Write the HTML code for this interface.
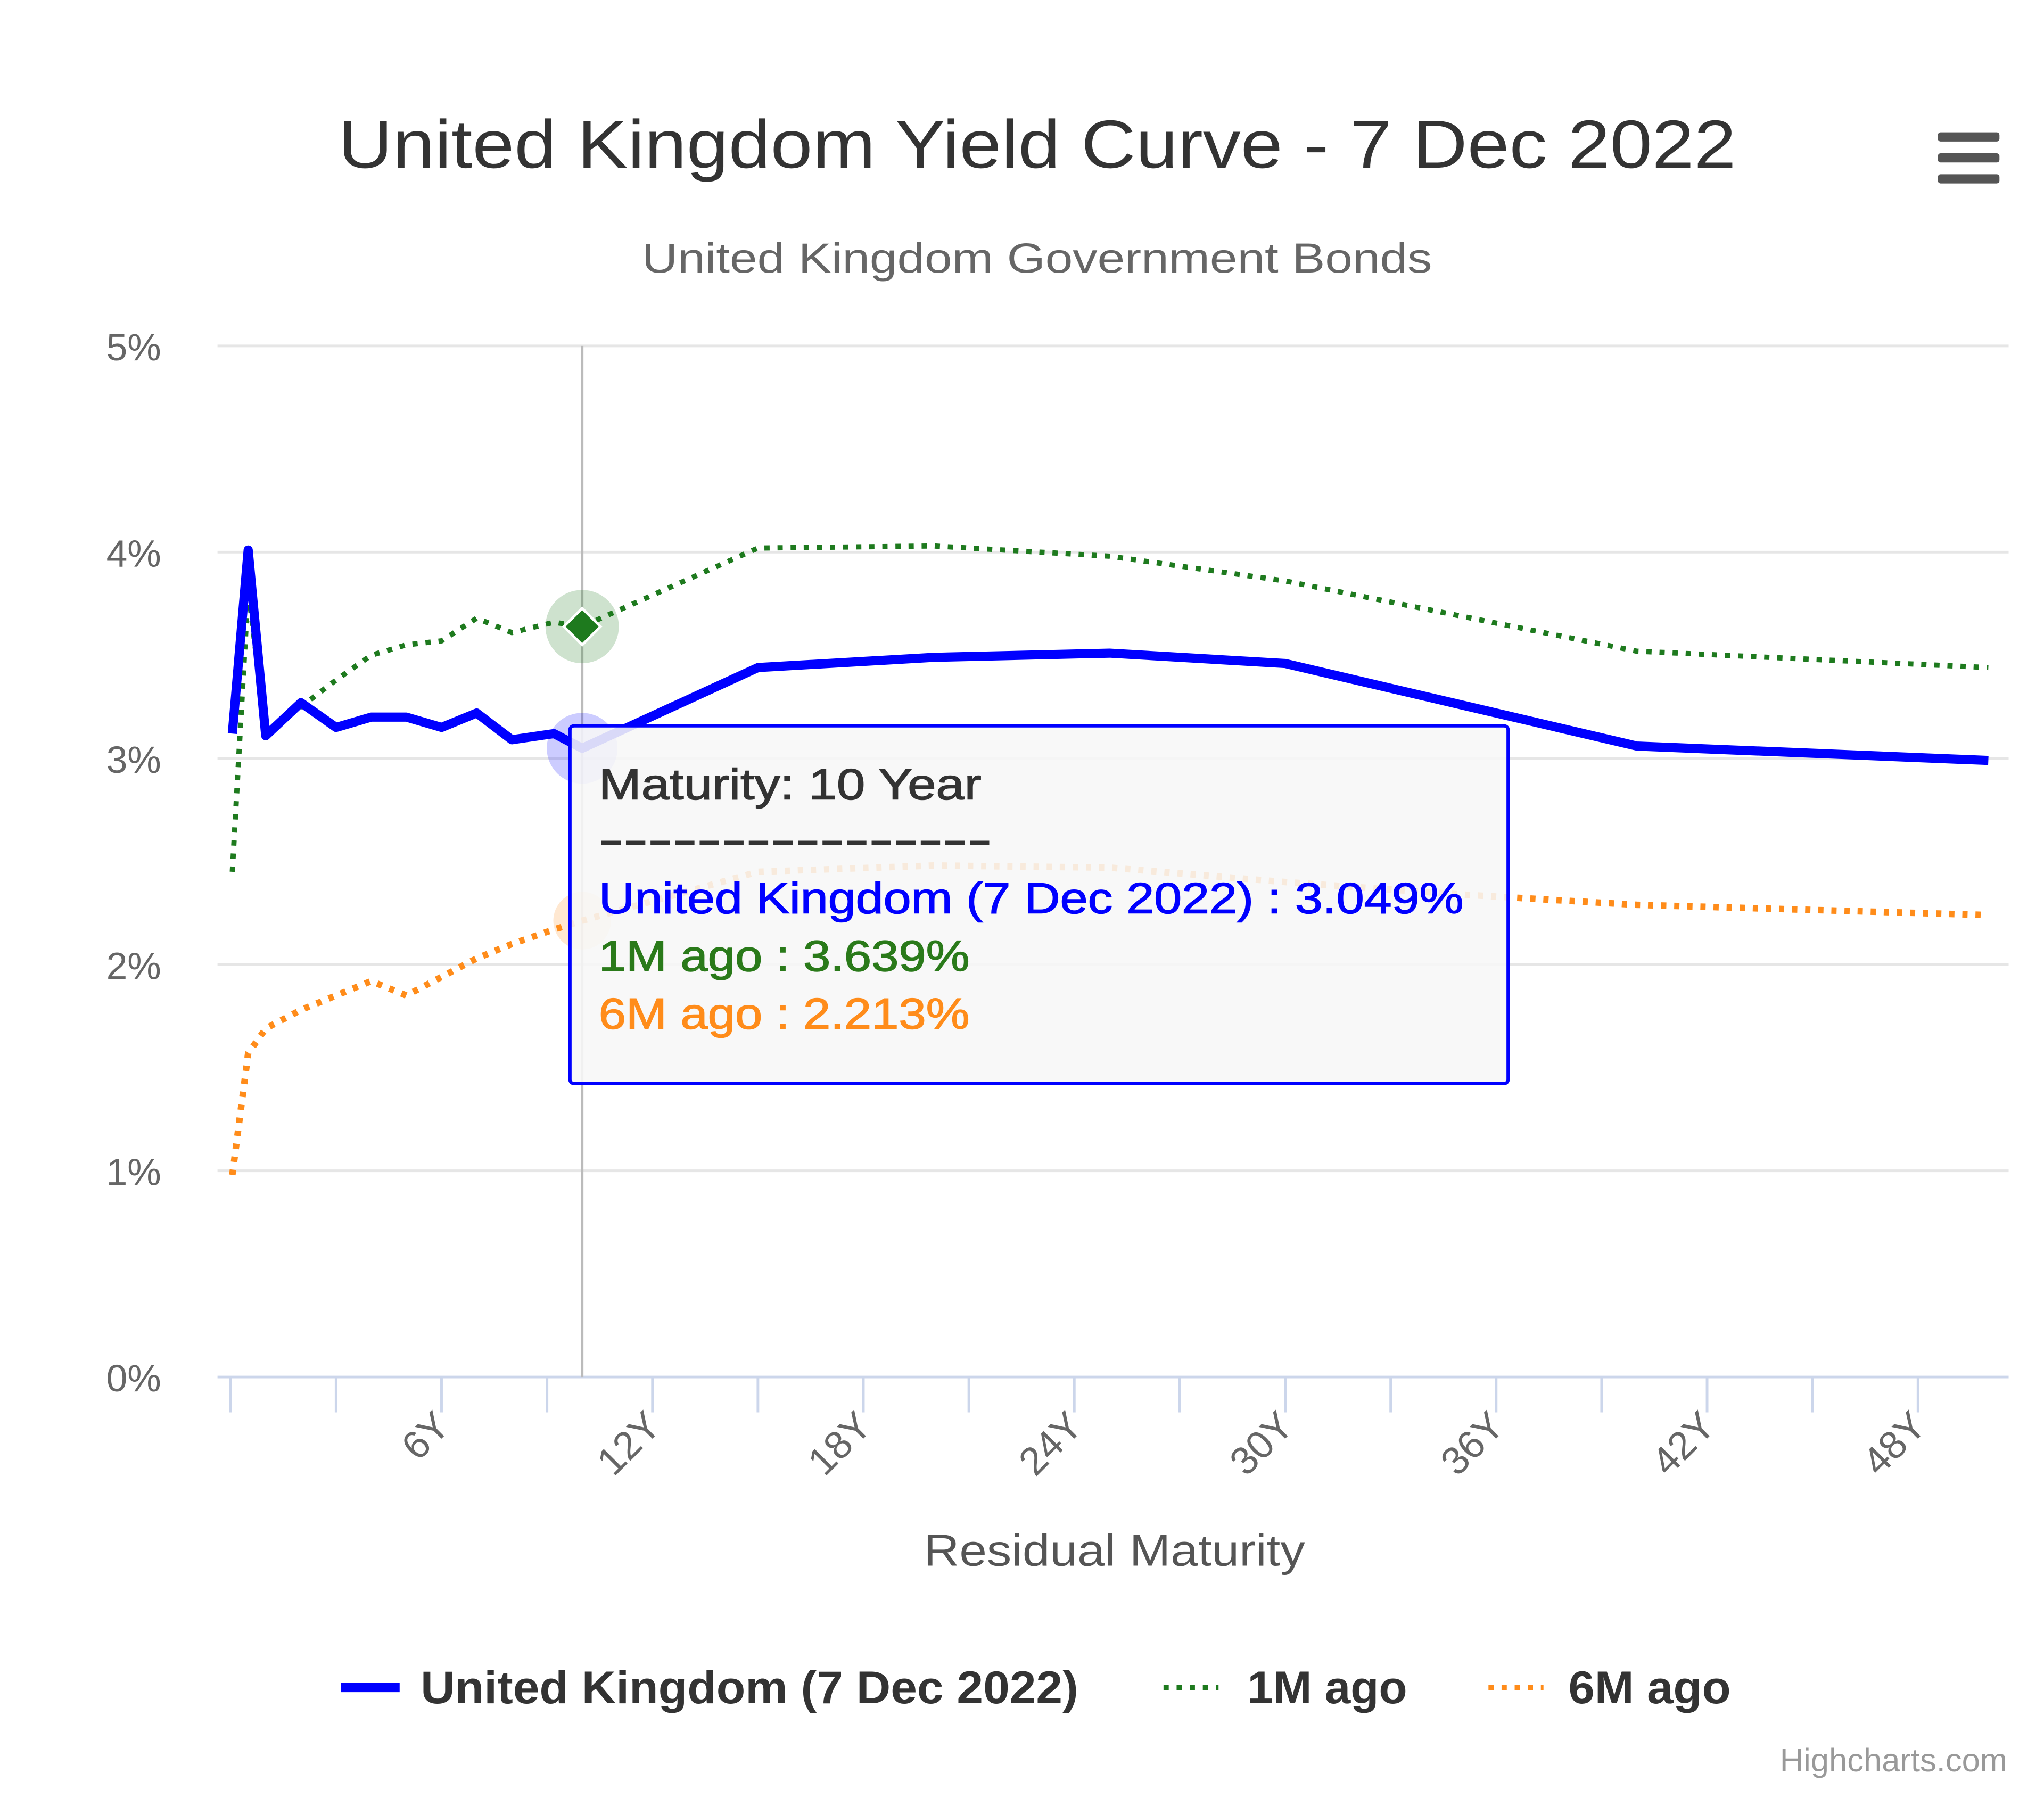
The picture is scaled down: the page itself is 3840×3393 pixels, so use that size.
<!DOCTYPE html>
<html><head><meta charset="utf-8"><style>
html,body{margin:0;padding:0;background:#fff;}
svg{display:block;font-family:"Liberation Sans",sans-serif;}
</style></head><body>
<svg id="chart" width="3840" height="3393" viewBox="0 0 1560 1378.4" xmlns="http://www.w3.org/2000/svg">
<rect x="0" y="0" width="1560" height="1378.4" fill="#fff"/>
<text x="258" y="128" font-size="52" fill="#333" textLength="1067" lengthAdjust="spacingAndGlyphs">United Kingdom Yield Curve - 7 Dec 2022</text>
<text x="490" y="208" font-size="32" fill="#666" textLength="603" lengthAdjust="spacingAndGlyphs">United Kingdom Government Bonds</text>
<g fill="#555">
<rect x="1479" y="101" width="47" height="7" rx="2"/><rect x="1479" y="117" width="47" height="7" rx="2"/><rect x="1479" y="133" width="47" height="7" rx="2"/>
</g>
<g id="grid"></g>
<g id="xaxis"></g>
<g id="yaxis"></g>
<line id="cross" y1="264" y2="1051" stroke="#bbb" stroke-width="2"/>
<g id="series"></g>
<g id="markers"></g>
<g font-size="33" stroke-width="0.6">
<rect x="435" y="554" width="716" height="273" rx="3" fill="#f7f7f7" fill-opacity="0.88" stroke="#0000ff" stroke-width="2.5"/>
<text x="457" y="610" fill="#333" stroke="#333" textLength="292" lengthAdjust="spacingAndGlyphs">Maturity: 10 Year</text>
<text x="457" y="652" fill="#333" stroke="#333" textLength="300" lengthAdjust="spacingAndGlyphs">----------------</text>
<text x="457" y="697" fill="#0000ff" stroke="#0000ff" textLength="660" lengthAdjust="spacingAndGlyphs">United Kingdom (7 Dec 2022) : 3.049%</text>
<text x="457" y="741" fill="#2a7a1a" stroke="#2a7a1a" textLength="283" lengthAdjust="spacingAndGlyphs">1M ago : 3.639%</text>
<text x="457" y="785" fill="#ff8c1a" stroke="#ff8c1a" textLength="283" lengthAdjust="spacingAndGlyphs">6M ago : 2.213%</text>
</g>
<text x="705" y="1195" font-size="34" fill="#555" textLength="291" lengthAdjust="spacingAndGlyphs">Residual Maturity</text>
<g font-size="35" font-weight="bold" fill="#333">
<g><line x1="260" y1="1288" x2="305" y2="1288" stroke="#0000ff" stroke-width="7"/><text x="321" y="1300" textLength="502" lengthAdjust="spacingAndGlyphs">United Kingdom (7 Dec 2022)</text></g>
<g><line x1="888" y1="1288" x2="930" y2="1288" stroke="#1e7a1e" stroke-width="4" stroke-dasharray="4,6"/><text x="952" y="1300" textLength="122" lengthAdjust="spacingAndGlyphs">1M ago</text></g>
<g><line x1="1136" y1="1288" x2="1178" y2="1288" stroke="#ff8c1a" stroke-width="4" stroke-dasharray="4,6"/><text x="1197" y="1300" textLength="124" lengthAdjust="spacingAndGlyphs">6M ago</text></g>
</g>
<text x="1532" y="1352" text-anchor="end" font-size="25" fill="#999">Highcharts.com</text>
</svg>
<script>
const maturities = [0.05,0.5,1,2,3,4,5,6,7,8,9.2,10,15,20,25,30,35,40,50];
const ukValues =   [3.12,4.01,3.11,3.27,3.15,3.20,3.20,3.15,3.22,3.09,3.12,3.049,3.44,3.49,3.51,3.46,3.26,3.06,2.99];
const m1Values =   [2.45,3.82,3.12,3.25,3.38,3.50,3.55,3.57,3.68,3.61,3.66,3.639,4.02,4.03,3.98,3.86,3.69,3.52,3.44];
const m6Values =   [0.98,1.57,1.69,1.78,1.85,1.92,1.85,1.94,2.03,2.10,2.17,2.213,2.45,2.48,2.47,2.40,2.34,2.29,2.24];
const yTicks = [0,1,2,3,4,5];
const xTicks = [0,3,6,9,12,15,18,21,24,27,30,33,36,39,42,45,48];
const NS="http://www.w3.org/2000/svg";
const X=v=>176+v*26.83, Y=v=>1051-v*157.4;
function mk(t,a,p){const e=document.createElementNS(NS,t);for(const k in a)e.setAttribute(k,a[k]);p.appendChild(e);return e;}
const grid=document.getElementById('grid'),xa=document.getElementById('xaxis'),ya=document.getElementById('yaxis');
yTicks.forEach(v=>{
 const l=mk('line',{x1:166,x2:1533,y1:Y(v),y2:Y(v),stroke:v===0?'#ccd6eb':'#e6e6e6','stroke-width':2},grid);
 
 
 const t=mk('text',{x:123,y:Y(v)+11,'text-anchor':'end','font-size':29,fill:'#666'},ya);
 t.textContent=v+'%';
 
 
});
xTicks.forEach(v=>{
 const l=mk('line',{x1:X(v),x2:X(v),y1:1051,y2:1078,stroke:'#ccd6eb','stroke-width':2},xa);
 
 
 if(v%6===0&&v>0){
  const t=mk('text',{x:X(v)+8,y:1090,'text-anchor':'end','font-size':30,fill:'#666',transform:`rotate(-45 ${X(v)+8} 1090)`},xa);
  t.textContent=v+'Y';
  
  
 }
});
document.getElementById('cross').setAttribute('x1',X(10));
document.getElementById('cross').setAttribute('x2',X(10));
const ser=document.getElementById('series');
function line(vals,color,w,dash,name){
 const d=vals.map((v,i)=>(i?'L':'M')+X(maturities[i]).toFixed(1)+','+Y(v).toFixed(1)).join(' ');
 const p=mk('path',{d:d,fill:'none',stroke:color,'stroke-width':w,'stroke-linejoin':'round'},ser);
 if(dash)p.setAttribute('stroke-dasharray',dash);
 
 
}
line(m6Values,'#ff8c1a',5,'4,6','series-6m-ago');
line(m1Values,'#1e7a1e',4,'4,6','series-1m-ago');
line(ukValues,'#0000ff',7,null,'series-uk');
const mg=document.getElementById('markers');
const i10=maturities.indexOf(10);
const h1=mk('circle',{cx:X(10),cy:Y(ukValues[i10]),r:27,fill:'#0000ff','fill-opacity':0.2},mg);


const h2=mk('circle',{cx:X(10),cy:Y(m1Values[i10]),r:28,fill:'#1e7a1e','fill-opacity':0.22},mg);


const cx=X(10),cy=Y(m1Values[i10]);
const dm=mk('path',{d:`M${cx},${cy-14} L${cx+14},${cy} L${cx},${cy+14} L${cx-14},${cy} Z`,fill:'#1e7a1e',stroke:'#fff','stroke-width':2},mg);


const h3=mk('circle',{cx:X(10),cy:Y(m6Values[i10]),r:22,fill:'#ff8c1a','fill-opacity':0.2},mg);


</script>
</body></html>
